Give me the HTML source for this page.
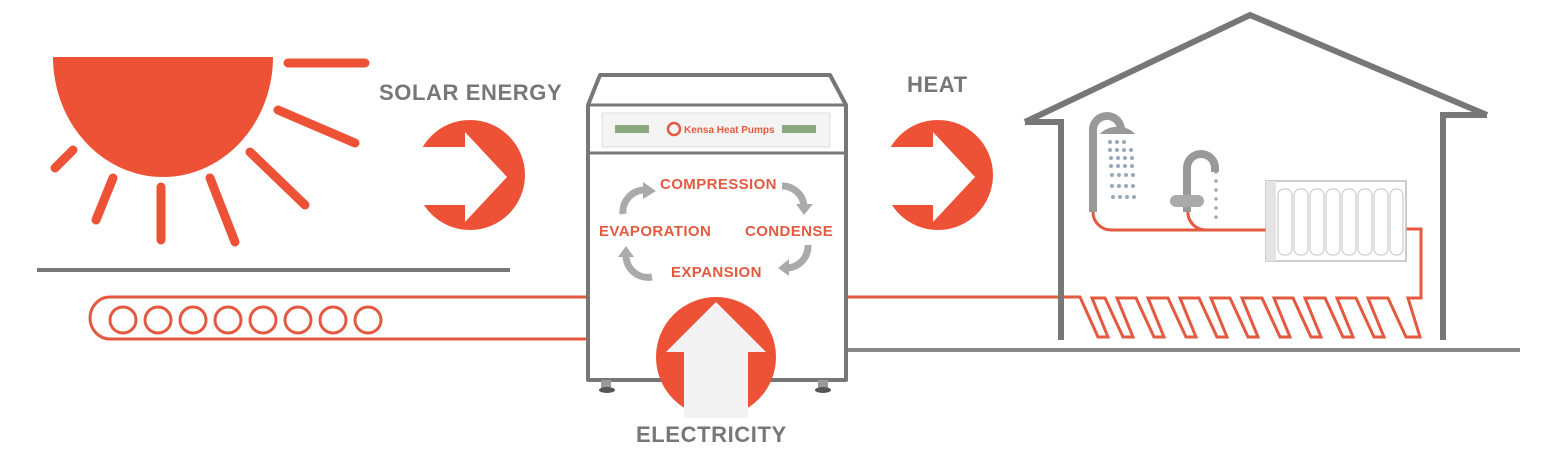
<!DOCTYPE html>
<html><head><meta charset="utf-8"><style>
html,body{margin:0;padding:0;background:#fff;}
svg{display:block}
text{font-family:"Liberation Sans",sans-serif;font-weight:bold}
</style></head><body>
<svg width="1564" height="461" viewBox="0 0 1564 461" xmlns="http://www.w3.org/2000/svg">
<!-- sun -->
<path d="M53,57 H273 A110,120 0 0 1 53,57 Z" fill="#EE5236"/>
<g stroke="#EE5236" stroke-width="9" stroke-linecap="round">
<line x1="288" y1="63" x2="365" y2="63"/>
<line x1="278" y1="110" x2="355" y2="143"/>
<line x1="250" y1="152" x2="305" y2="205"/>
<line x1="210" y1="178" x2="235" y2="242"/>
<line x1="161" y1="187" x2="161" y2="240"/>
<line x1="113" y1="178" x2="96" y2="220"/>
<line x1="73" y1="150" x2="55" y2="168"/>
</g>
<line x1="37" y1="270" x2="510" y2="270" stroke="#777" stroke-width="4"/>
<text x="379" y="100" font-size="22" letter-spacing="0.6" fill="#777">SOLAR ENERGY</text>
<text x="907" y="92" font-size="22" letter-spacing="0.6" fill="#777">HEAT</text>
<!-- solar arrow -->
<circle cx="470" cy="175" r="55" fill="#EE5236"/>
<path d="M412,147 H465 V132 L507,177 L465,222 V205 H412 Z" fill="#fff"/>
<!-- heat arrow -->
<circle cx="938" cy="175" r="55" fill="#EE5236"/>
<path d="M880,147 H933 V132 L975,177 L933,222 V205 H880 Z" fill="#fff"/>
<!-- coil -->
<g fill="none" stroke="#E35A40" stroke-width="3">
<path d="M590,297 H110 A20,21 0 0 0 110,339 H590"/>
<circle cx="123" cy="320" r="13"/><circle cx="158" cy="320" r="13"/><circle cx="193" cy="320" r="13"/><circle cx="228" cy="320" r="13"/><circle cx="263" cy="320" r="13"/><circle cx="298" cy="320" r="13"/><circle cx="333" cy="320" r="13"/><circle cx="368" cy="320" r="13"/>
<path d="M840,297 H1080 L1098,337 H1108 L1092,298 H1105 L1123,337 H1133 L1117,298 H1136 L1154,337 H1164 L1148,298 H1168 L1186,337 H1196 L1180,298 H1199 L1217,337 H1227 L1211,298 H1230 L1248,337 H1258 L1242,298 H1262 L1280,337 H1290 L1274,298 H1293 L1311,337 H1321 L1305,298 H1325 L1343,337 H1353 L1337,298 H1356 L1374,337 H1384 L1368,298 H1388 L1406,337 H1420 L1408,298 H1421 V229 H1405"/>
<path d="M1093,210 V212 A18,18 0 0 0 1111,230 H1270"/>
<path d="M1188,210 A18,18 0 0 0 1206,230"/>
</g>
<!-- floor right -->
<line x1="835" y1="350" x2="1520" y2="350" stroke="#888" stroke-width="4"/>
<!-- house -->
<g fill="none" stroke="#777" stroke-width="6">
<path d="M1025,122 L1250,15 L1487,115"/>
<path d="M1025,122 H1061 V340"/>
<path d="M1487,115 H1443 V340"/>
</g>
<!-- shower -->
<path d="M1093,212 V130 A14,14 0 0 1 1121,130" fill="none" stroke="#999" stroke-width="8"/>
<path d="M1100,134 A20,14 0 0 1 1135,134 Z" fill="#999"/>
<g fill="#9ab">
<circle cx="1110" cy="142" r="2"/><circle cx="1117" cy="142" r="2"/><circle cx="1124" cy="142" r="2"/>
<circle cx="1110" cy="150" r="2"/><circle cx="1117" cy="150" r="2"/><circle cx="1124" cy="150" r="2"/><circle cx="1131" cy="150" r="2"/>
<circle cx="1111" cy="158" r="2"/><circle cx="1118" cy="158" r="2"/><circle cx="1125" cy="158" r="2"/><circle cx="1132" cy="158" r="2"/>
<circle cx="1111" cy="166" r="2"/><circle cx="1118" cy="166" r="2"/><circle cx="1125" cy="166" r="2"/><circle cx="1132" cy="166" r="2"/>
<circle cx="1112" cy="175" r="2"/><circle cx="1119" cy="175" r="2"/><circle cx="1126" cy="175" r="2"/><circle cx="1133" cy="175" r="2"/>
<circle cx="1112" cy="186" r="2"/><circle cx="1119" cy="186" r="2"/><circle cx="1126" cy="186" r="2"/><circle cx="1133" cy="186" r="2"/>
<circle cx="1113" cy="197" r="2"/><circle cx="1120" cy="197" r="2"/><circle cx="1127" cy="197" r="2"/><circle cx="1134" cy="197" r="2"/>
<circle cx="1216" cy="172" r="1.8"/><circle cx="1216" cy="181" r="1.8"/><circle cx="1216" cy="190" r="1.8"/><circle cx="1216" cy="199" r="1.8"/><circle cx="1216" cy="208" r="1.8"/><circle cx="1216" cy="217" r="1.8"/>
</g>
<!-- tap -->
<path d="M1187,212 V168 A14,14 0 0 1 1215,168 V172" fill="none" stroke="#999" stroke-width="8"/>
<rect x="1170" y="195" width="34" height="12" rx="6" fill="#aaa"/>
<!-- radiator -->
<rect x="1266" y="181" width="140" height="80" fill="#fff" stroke="#bbb" stroke-width="1.5"/>
<rect x="1266" y="181" width="10" height="80" fill="#e4e4e4"/>
<g fill="none" stroke="#ccc" stroke-width="1.2">
<rect x="1278" y="189" width="14" height="66" rx="6"/><rect x="1294" y="189" width="14" height="66" rx="6"/><rect x="1310" y="189" width="14" height="66" rx="6"/><rect x="1326" y="189" width="14" height="66" rx="6"/><rect x="1342" y="189" width="14" height="66" rx="6"/><rect x="1358" y="189" width="14" height="66" rx="6"/><rect x="1374" y="189" width="14" height="66" rx="6"/><rect x="1390" y="189" width="13" height="66" rx="6"/>
</g>
<!-- heat pump -->
<path d="M600,75 H830 L846,105 V380 H588 V105 Z" fill="#fff" stroke="#777" stroke-width="4" stroke-linejoin="round"/>
<line x1="588" y1="105" x2="846" y2="105" stroke="#777" stroke-width="3"/>
<rect x="602" y="113" width="228" height="34" fill="#f4f4f4" stroke="#ddd"/>
<line x1="588" y1="153" x2="846" y2="153" stroke="#777" stroke-width="3"/>
<rect x="615" y="125" width="34" height="8" fill="#8aa880"/>
<rect x="782" y="125" width="34" height="8" fill="#8aa880"/>
<circle cx="674" cy="129" r="6" fill="none" stroke="#E35A40" stroke-width="2.5"/>
<text x="684" y="133" font-size="10" fill="#E35A40" font-weight="normal">Kensa Heat Pumps</text>
<rect x="601" y="380" width="10" height="8" fill="#999"/><ellipse cx="607" cy="390" rx="8" ry="3" fill="#555"/>
<rect x="818" y="380" width="10" height="8" fill="#999"/><ellipse cx="823" cy="390" rx="8" ry="3" fill="#555"/>
<g font-size="15" letter-spacing="0.4" fill="#E35A40">
<text x="660" y="189">COMPRESSION</text>
<text x="599" y="236">EVAPORATION</text>
<text x="745" y="236">CONDENSE</text>
<text x="671" y="277">EXPANSION</text>
</g>
<g fill="none" stroke="#aaa" stroke-width="7">
<path d="M623,214 A22,22 0 0 1 645,190"/>
<path d="M782,186 A22,22 0 0 1 804,206"/>
<path d="M808,245 A22,22 0 0 1 786,268"/>
<path d="M652,277 A22,22 0 0 1 626,255"/>
</g>
<g fill="#aaa">
<path d="M643,182 L656,191 L643,199 Z"/>
<path d="M796,204 L813,204 L804,215 Z"/>
<path d="M789,259 L778,268 L789,276 Z"/>
<path d="M618,257 L634,257 L626,246 Z"/>
</g>
<!-- electricity -->
<circle cx="716" cy="357" r="60" fill="#EE5236"/>
<path d="M716,302 L766,352 H748 V420 H684 V352 H666 Z" fill="#f2f2f2"/>
<rect x="600" y="418" width="240" height="43" fill="#fff"/>
<text x="636" y="442" font-size="22" letter-spacing="0.6" fill="#777">ELECTRICITY</text>
</svg>
</body></html>
